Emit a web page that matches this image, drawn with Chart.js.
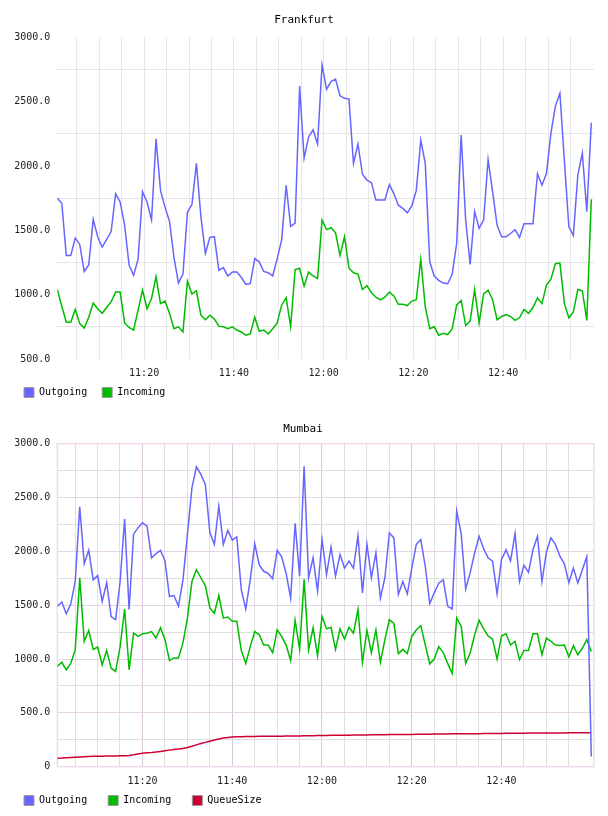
<!DOCTYPE html>
<html>
<head>
<meta charset="utf-8">
<title>Frankfurt / Mumbai</title>
<script src="https://cdn.jsdelivr.net/npm/chart.js@4.4.1/dist/chart.umd.min.js"></script>
<style>
  html, body { margin: 0; padding: 0; background: #fff; }
  .box { position: absolute; left: 0; width: 608px; height: 408px; }
  #box-fra { top: 0; }
  #box-bom { top: 408px; }
</style>
</head>
<body>
<div class="box" id="box-fra"><canvas id="chart-fra"></canvas></div>
<div class="box" id="box-bom"><canvas id="chart-bom"></canvas></div>
<script>
// one sample per minute, first sample at these minutes after 11:00
const fraStart = 0.65;
const bomStart = 1.03;

// 5 minute grid marks (minutes after 11:00), labels every 20 minutes
const gridMinutes = [5, 10, 15, 20, 25, 30, 35, 40, 45, 50, 55, 60, 65, 70, 75, 80, 85, 90, 95, 100, 105, 110, 115];
const labelMinutes = [20, 40, 60, 80, 100];

const fraOutgoing = [
  1750, 1710, 1305, 1305, 1440, 1390, 1180, 1230, 1585, 1450,
  1370, 1430, 1490, 1785, 1720, 1540, 1230, 1150, 1275, 1800,
  1720, 1580, 2210, 1810, 1680, 1570, 1290, 1090, 1160, 1640,
  1700, 2020, 1605, 1320, 1445, 1450, 1190, 1210, 1145, 1175,
  1175, 1135, 1080, 1085, 1280, 1255, 1180, 1170, 1145, 1280,
  1425, 1850, 1530, 1555, 2620, 2060, 2225, 2280, 2170, 2785,
  2595, 2655, 2675, 2545, 2525, 2520, 2020, 2170, 1935, 1890,
  1870, 1735, 1735, 1735, 1855, 1785, 1695, 1670, 1635, 1690,
  1810, 2200, 2020, 1255, 1145, 1110, 1090, 1085, 1160, 1400,
  2240, 1580, 1235, 1645, 1515, 1580, 2050, 1800, 1540, 1450,
  1450, 1475, 1505, 1445, 1550, 1550, 1550, 1940, 1850, 1940,
  2255, 2465, 2565, 2040, 1525, 1460, 1930, 2100, 1645, 2335
];
const fraIncoming = [
  1040, 910, 785, 785, 885, 775, 740, 825, 935, 890,
  855, 900, 945, 1020, 1020, 780, 745, 725, 880, 1035,
  890, 970, 1140, 930, 950, 855, 735, 750, 710, 1105,
  1005, 1030, 840, 805, 840, 810, 755, 750, 735, 750,
  725, 710, 685, 695, 825, 715, 725, 695, 735, 780,
  920, 975, 750, 1195, 1205, 1065, 1175, 1145, 1125, 1580,
  1505, 1520, 1480, 1305, 1450, 1205, 1170, 1160, 1040, 1070,
  1015, 980, 960, 980, 1020, 990, 925, 925, 915, 950,
  960, 1275, 905, 735, 750, 685, 700, 690, 735, 920,
  955, 760, 795, 1040, 780, 1005, 1035, 960, 805, 830,
  845, 830, 800, 820, 885, 855, 900, 975, 930, 1075,
  1120, 1240, 1245, 930, 820, 865, 1040, 1030, 800, 1740
];

const bomOutgoing = [
  1490, 1530, 1420, 1510, 1720, 2415, 1885, 2010, 1735, 1775,
  1535, 1710, 1395, 1365, 1720, 2300, 1460, 2160, 2220, 2265,
  2235, 1940, 1980, 2010, 1910, 1580, 1590, 1490, 1735, 2155,
  2590, 2785, 2715, 2620, 2175, 2065, 2420, 2065, 2195, 2105,
  2135, 1645, 1465, 1735, 2070, 1875, 1815, 1795, 1745, 2010,
  1950, 1795, 1565, 2260, 1770, 2790, 1755, 1940, 1630, 2110,
  1785, 2040, 1770, 1970, 1845, 1910, 1845, 2145, 1615, 2065,
  1755, 1985, 1565, 1755, 2170, 2125, 1600, 1720, 1605, 1845,
  2065, 2110, 1860, 1515, 1615, 1705, 1735, 1490, 1465, 2375,
  2165, 1650, 1800, 1985, 2140, 2025, 1940, 1910, 1605, 1925,
  2015, 1910, 2165, 1720, 1870, 1805, 2015, 2140, 1720, 1995,
  2125, 2065, 1955, 1885, 1710, 1845, 1705, 1830, 1950, 95
];
const bomIncoming = [
  930, 970, 900, 960, 1085, 1755, 1165, 1265, 1090, 1110,
  945, 1080, 915, 885, 1115, 1465, 900, 1240, 1210, 1235,
  1240, 1255, 1195, 1290, 1180, 985, 1010, 1010, 1150, 1380,
  1720, 1830, 1755, 1680, 1475, 1425, 1590, 1380, 1390, 1350,
  1350, 1080, 960, 1115, 1255, 1225, 1130, 1130, 1060, 1270,
  1210, 1130, 985, 1360, 1090, 1740, 1085, 1290, 1030, 1395,
  1280, 1295, 1090, 1280, 1185, 1295, 1240, 1460, 970, 1265,
  1060, 1270, 970, 1180, 1365, 1330, 1050, 1090, 1050, 1210,
  1270, 1310, 1130, 955, 1000, 1115, 1060, 960, 865, 1380,
  1305, 960, 1055, 1225, 1360, 1280, 1215, 1185, 1000, 1215,
  1235, 1130, 1165, 995, 1080, 1080, 1235, 1235, 1040, 1195,
  1165, 1130, 1125, 1130, 1020, 1125, 1040, 1100, 1180, 1070
];
const bomQueueSize = [
  78, 80, 83, 86, 88, 90, 92, 94, 96, 97,
  98, 99, 100, 100, 101, 102, 104, 110, 118, 126,
  130, 133, 137, 142, 148, 154, 159, 164, 170, 178,
  190, 203, 215, 226, 237, 248, 258, 266, 272, 276,
  278, 279, 280, 281, 281, 282, 282, 282, 282, 283,
  283, 284, 284, 285, 286, 287, 288, 288, 289, 290,
  290, 291, 291, 292, 293, 293, 294, 294, 295, 295,
  296, 296, 297, 297, 298, 298, 299, 299, 300, 300,
  301, 301, 302, 302, 303, 303, 304, 304, 305, 305,
  306, 306, 307, 307, 307, 308, 308, 309, 309, 309,
  310, 310, 311, 311, 311, 312, 312, 312, 313, 313,
  313, 314, 314, 314, 315, 315, 315, 316, 316, 316
];

const COLORS = { outgoing: '#6666ff', incoming: '#00bb00', queue: '#cc0033' };

Chart.defaults.font.family = "'DejaVu Sans Mono', 'Liberation Mono', monospace";
Chart.defaults.font.size = 10;
Chart.defaults.color = '#222';

function hhmm(min) {
  const h = 11 + Math.floor(min / 60);
  const m = min % 60;
  return h + ':' + String(m).padStart(2, '0');
}

function series(values, start) {
  return values.map((v, i) => ({ x: start + i, y: v }));
}

function lineSet(label, values, start, color) {
  return {
    label: label,
    data: series(values, start),
    borderColor: color,
    backgroundColor: color,
    borderWidth: 1.5,
    pointRadius: 0,
    tension: 0,
    fill: false
  };
}

function legendItems(chart) {
  return chart.data.datasets.map((ds, i) => ({
    text: ds.label,
    fillStyle: ds.borderColor,
    strokeStyle: '#999',
    lineWidth: 1,
    hidden: false,
    datasetIndex: i
  }));
}

// light frame round the plot area (Mumbai only)
const plotFrame = {
  id: 'plotFrame',
  beforeDatasetsDraw(chart, args, opts) {
    if (!opts.color) return;
    const a = chart.chartArea;
    const ctx = chart.ctx;
    ctx.save();
    ctx.strokeStyle = opts.color;
    ctx.lineWidth = opts.width || 1;
    ctx.strokeRect(a.left, a.top, a.right - a.left, a.bottom - a.top);
    ctx.restore();
  }
};

function buildChart(id, cfg) {
  const ctx = document.getElementById(id).getContext('2d');
  return new Chart(ctx, {
    type: 'line',
    data: { datasets: cfg.datasets },
    plugins: [plotFrame],
    options: {
      responsive: true,
      maintainAspectRatio: false,
      animation: false,
      events: [],
      layout: { padding: { left: cfg.padLeft, right: cfg.padRight, top: 0, bottom: 0.5 } },
      scales: {
        x: {
          type: 'linear',
          min: cfg.start,
          max: cfg.start + 119.6,
          afterBuildTicks: s => {
            s.ticks = gridMinutes.filter(m => m > s.min && m < s.max).map(m => ({ value: m }));
          },
          afterFit: s => {
            s.height = cfg.xHeight;
            // labels hang below the shortened axis box, so do not clip them
            s._computeLabelArea = () => null;
          },
          ticks: {
            autoSkip: false,
            maxRotation: 0,
            padding: cfg.xPad,
            color: '#222',
            callback: v => (labelMinutes.includes(v) ? hhmm(v) : '')
          },
          grid: { drawTicks: false, lineWidth: 1, color: c => cfg.xGrid(c.tick ? c.tick.value : 0) },
          border: { display: false }
        },
        y: {
          min: cfg.yMin,
          max: 3000,
          afterBuildTicks: s => {
            const t = [];
            for (let v = cfg.yMin; v <= 3000; v += 250) t.push({ value: v });
            s.ticks = t;
          },
          afterFit: s => { s.width = 57.3 - cfg.padLeft; },
          ticks: {
            autoSkip: false,
            padding: 7,
            color: '#222',
            callback: v => (v % 500 ? '' : (v === 0 ? '0' : v.toFixed(1)))
          },
          grid: { drawTicks: false, lineWidth: 1, color: c => cfg.yGrid(c.tick ? c.tick.value : 0) },
          border: { display: false }
        },
        // empty box on the right: keeps the plot off the edge while the title stays centred on the page
        gap: {
          type: 'linear',
          position: 'right',
          display: true,
          grid: { display: false },
          ticks: { display: false },
          border: { display: false },
          afterFit: s => { s.width = cfg.rightGap; }
        }
      },
      plugins: {
        title: {
          display: true,
          text: cfg.title,
          color: '#000',
          font: { size: 11, weight: 'normal' },
          padding: cfg.titlePad
        },
        legend: {
          display: true,
          position: 'bottom',
          align: 'start',
          labels: {
            boxWidth: 10,
            boxHeight: 10,
            padding: cfg.legendPad,
            color: '#000',
            font: { size: 10 },
            generateLabels: legendItems
          }
        },
        tooltip: { enabled: false },
        plotFrame: cfg.frame || {}
      }
    }
  });
}

buildChart('chart-fra', {
  title: 'Frankfurt',
  start: fraStart,
  yMin: 500,
  padLeft: 9,
  padRight: 9,
  rightGap: 5,
  legendPad: 15,
  xHeight: 13.5,
  xPad: 8,
  titlePad: { top: 14, bottom: 10 },
  xGrid: () => '#e6e6e6',
  yGrid: v => (v % 500 === 0 ? 'rgba(0,0,0,0)' : '#e6e6e6'),
  datasets: [
    lineSet('Outgoing', fraOutgoing, fraStart, COLORS.outgoing),
    lineSet('Incoming', fraIncoming, fraStart, COLORS.incoming)
  ]
});

buildChart('chart-bom', {
  title: 'Mumbai',
  start: bomStart,
  yMin: 0,
  padLeft: 3,
  padRight: 5,
  rightGap: 9,
  legendPad: 21,
  xHeight: 7.8,
  xPad: 9,
  titlePad: { top: 14.5, bottom: 8 },
  xGrid: v => (v % 20 === 0 ? '#dcc6dc' : '#e0e0e0'),
  yGrid: v => (v % 500 === 0 ? '#e6d4e6' : '#dedede'),
  frame: { color: '#eedcee', width: 1.5 },
  datasets: [
    lineSet('Outgoing', bomOutgoing, bomStart, COLORS.outgoing),
    lineSet('Incoming', bomIncoming, bomStart, COLORS.incoming),
    lineSet('QueueSize', bomQueueSize, bomStart, COLORS.queue)
  ]
});
</script>
</body>
</html>
